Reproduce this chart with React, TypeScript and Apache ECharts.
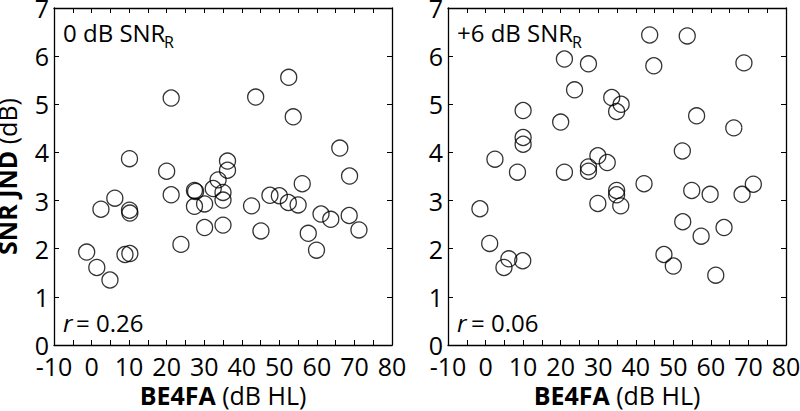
import React, { useEffect, useRef } from "react";
import * as echarts from "echarts";

const xTicks = { min: -10, max: 80, step: 5 };
const yTicks = { min: 0, max: 7, step: 1 };

const leftX = [-1.3, 1.4, 2.5, 4.9, 6.2, 8.9, 10.2, 10.1, 10.2, 10.1, 20.0, 21.2, 21.2, 23.8, 27.4, 27.7, 27.4, 30.1, 30.1, 32.4, 33.7, 35.0, 35.0, 35.0, 36.2, 36.2, 42.6, 43.7, 45.1, 47.5, 50.0, 52.4, 52.5, 53.7, 55.0, 56.1, 57.7, 59.9, 61.1, 63.7, 66.1, 68.6, 68.7, 71.2];
const leftY = [1.93, 1.61, 2.82, 1.35, 3.05, 1.88, 1.90, 2.80, 2.74, 3.87, 3.61, 5.13, 3.12, 2.09, 3.21, 3.19, 2.88, 2.93, 2.44, 3.25, 3.43, 3.17, 3.01, 2.49, 3.82, 3.63, 2.89, 5.15, 2.37, 3.11, 3.10, 2.96, 5.56, 4.74, 2.91, 3.35, 2.32, 1.97, 2.72, 2.61, 4.09, 2.69, 3.51, 2.39];

const rightX = [-1.5, 1.1, 2.5, 4.9, 6.2, 8.5, 9.9, 10.0, 10.0, 10.0, 20.0, 21.0, 21.0, 23.7, 27.4, 27.4, 27.4, 29.9, 29.9, 32.4, 33.6, 34.9, 36.1, 34.9, 34.9, 36.0, 42.2, 43.7, 44.8, 47.5, 50.0, 52.4, 52.5, 53.7, 54.9, 56.2, 57.4, 59.8, 61.3, 63.5, 66.1, 68.3, 68.8, 71.3];
const rightY = [2.83, 2.11, 3.86, 1.61, 1.79, 3.59, 1.75, 4.87, 4.31, 4.17, 4.63, 5.94, 3.59, 5.30, 5.84, 3.70, 3.61, 3.93, 2.94, 3.79, 5.14, 4.85, 5.00, 3.21, 3.12, 2.89, 3.35, 6.44, 5.80, 1.88, 1.64, 4.03, 2.56, 6.42, 3.21, 4.76, 2.26, 3.13, 1.45, 2.44, 4.51, 3.13, 5.86, 3.34];

const panelTitles = ["0 dB SNR", "+6 dB SNR"];
const panelSub = "R";
const rSymbol = "r";
const rValues = ["= 0.26", "= 0.06"];
const xTitleBold = "BE4FA";
const xTitleRest = " (dB HL)";
const yTitleBold = "SNR JND";
const yTitleRest = " (dB)";

const FONT = "'Open Sans', 'Noto Sans', sans-serif";

export default function App() {
  const ref = useRef<HTMLDivElement>(null);
  useEffect(() => {
    if (!ref.current) return;
    document.body.style.margin = "0";
    const chart = echarts.init(ref.current, undefined, { renderer: "svg" });
    const grids = [
      { left: 54, top: 8, width: 338, height: 337, outerBoundsMode: "none", containLabel: false },
      { left: 448, top: 8, width: 338, height: 337, outerBoundsMode: "none", containLabel: false },
    ];
    const lineStyle = { color: "#000", width: 1.3 };
    const xAxes: any[] = [];
    const yAxes: any[] = [];
    grids.forEach((_, i) => {
      const common = {
        gridIndex: i,
        type: "value",
        min: xTicks.min,
        max: xTicks.max,
        interval: xTicks.step,
        axisLine: { onZero: false, lineStyle },
        axisTick: { inside: true, length: 5, lineStyle: { color: "#000", width: 1 } },
        splitLine: { show: false },
      };
      xAxes.push({
        ...common,
        position: "bottom",
        axisLabel: {
          formatter: (v: number) => (v % 10 === 0 ? String(v) : ""),
          color: "#000",
          fontSize: 25,
          fontFamily: FONT,
          margin: 8,
          showMinLabel: true,
          showMaxLabel: true,
        },
        name: `{b|${xTitleBold}}${xTitleRest}`,
        nameLocation: "middle",
        nameGap: 31,
        nameTextStyle: {
          color: "#000",
          fontSize: 25,
          fontFamily: FONT,
          rich: { b: { fontWeight: "bold", fontSize: 25, fontFamily: FONT, color: "#000" } },
        },
      });
      xAxes.push({ ...common, position: "top", axisLabel: { show: false } });
      const ycommon = {
        gridIndex: i,
        type: "value",
        min: yTicks.min,
        max: yTicks.max,
        interval: yTicks.step,
        axisLine: { onZero: false, lineStyle },
        axisTick: { inside: true, length: 5, lineStyle: { color: "#000", width: 1 } },
        splitLine: { show: false },
      };
      yAxes.push({
        ...ycommon,
        position: "left",
        axisLabel: { color: "#000", fontSize: 25, fontFamily: FONT, margin: 5 },
        ...(i === 0
          ? {
              name: `{b|${yTitleBold}}${yTitleRest}`,
              nameLocation: "middle",
              nameRotate: 90,
              nameGap: 35,
              nameTextStyle: {
                color: "#000",
                fontSize: 25,
                fontFamily: FONT,
                rich: { b: { fontWeight: "bold", fontSize: 25, fontFamily: FONT, color: "#000" } },
              },
            }
          : {}),
      });
      yAxes.push({ ...ycommon, position: "right", axisLabel: { show: false } });
    });

    const mk = (xs: number[], ys: number[]) => xs.map((x, k) => [x, ys[k]]);
    const seriesStyle = {
      type: "scatter",
      symbol: "circle",
      symbolSize: 16,
      itemStyle: { color: "rgba(0,0,0,0)", borderColor: "#000", borderWidth: 1.3 },
      silent: true,
    };

    const textPos = [
      { x: 63, subX: 164, rEq: 76 },
      { x: 457, subX: 572, rEq: 471 },
    ];
    const graphics: any[] = [];
    textPos.forEach((p, i) => {
      graphics.push({
        type: "text",
        x: p.x,
        y: 20,
        style: { text: panelTitles[i], font: `24px ${FONT}`, fill: "#000" },
      });
      graphics.push({
        type: "text",
        x: p.subX,
        y: 34,
        style: { text: panelSub, font: `16px ${FONT}`, fill: "#000" },
      });
      graphics.push({
        type: "text",
        x: p.x,
        y: 310,
        style: { text: rSymbol, font: `italic 24px ${FONT}`, fill: "#000" },
      });
      graphics.push({
        type: "text",
        x: p.rEq,
        y: 310,
        style: { text: rValues[i], font: `24px ${FONT}`, fill: "#000" },
      });
    });

    chart.setOption({
      animation: false,
      grid: grids,
      xAxis: xAxes,
      yAxis: yAxes,
      series: [
        { ...seriesStyle, xAxisIndex: 0, yAxisIndex: 0, data: mk(leftX, leftY) },
        { ...seriesStyle, xAxisIndex: 2, yAxisIndex: 2, data: mk(rightX, rightY) },
      ],
      graphic: graphics,
    });
    return () => chart.dispose();
  }, []);
  return <div ref={ref} style={{ width: 800, height: 411 }} />;
}
